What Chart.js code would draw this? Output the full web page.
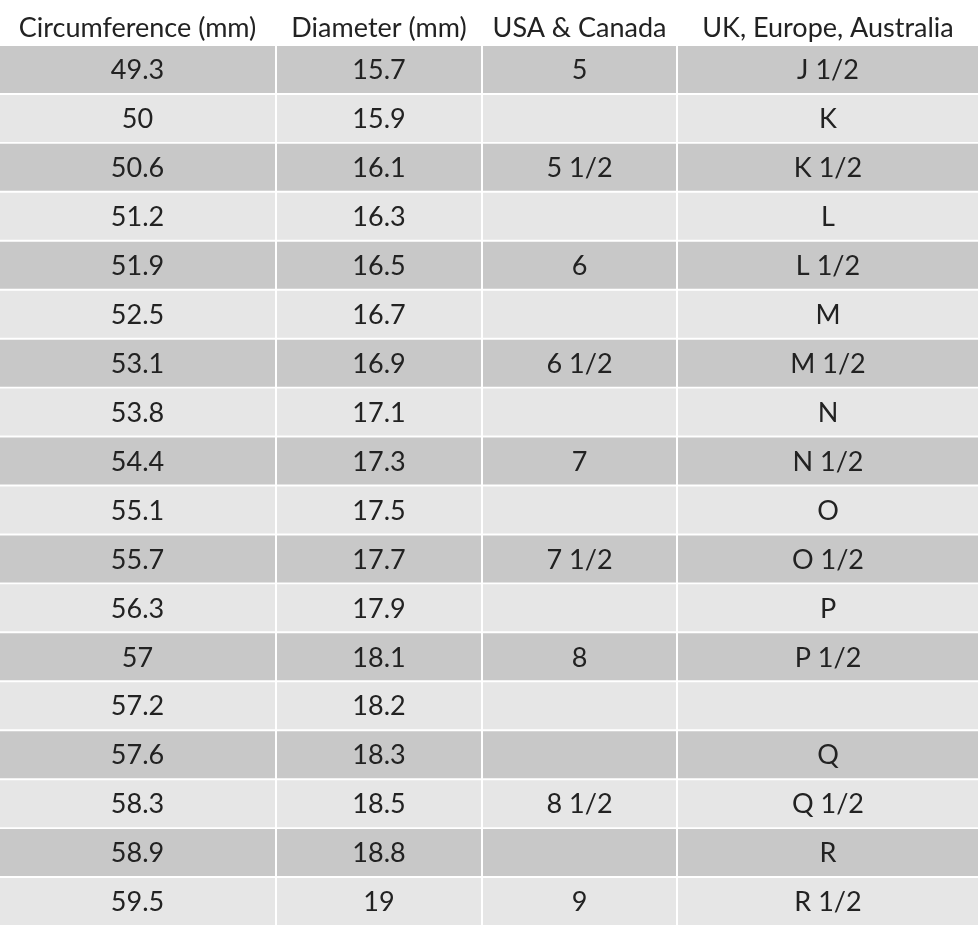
<!DOCTYPE html>
<html><head><meta charset="utf-8">
<script src="https://cdn.jsdelivr.net/npm/chart.js@4/dist/chart.umd.min.js"></script>
<style>html,body{margin:0;padding:0;background:#fff}</style>
</head><body>
<canvas id="c" width="980" height="937"></canvas>
<script>
const headers = ["Circumference (mm)", "Diameter (mm)", "USA & Canada", "UK, Europe, Australia"];
const circumference = ["49.3","50","50.6","51.2","51.9","52.5","53.1","53.8","54.4","55.1","55.7","56.3","57","57.2","57.6","58.3","58.9","59.5"];
const diameter = ["15.7","15.9","16.1","16.3","16.5","16.7","16.9","17.1","17.3","17.5","17.7","17.9","18.1","18.2","18.3","18.5","18.8","19"];
const usaCanada = ["5","","5 1/2","","6","","6 1/2","","7","","7 1/2","","8","","","8 1/2","","9"];
const ukEurope = ["J 1/2","K","K 1/2","L","L 1/2","M","M 1/2","N","N 1/2","O","O 1/2","P","P 1/2","","Q","Q 1/2","R","R 1/2"];

const columns = [circumference, diameter, usaCanada, ukEurope];
const colEdges = [[0,275],[277,481],[483,676],[678,978]];
const rowLabels = circumference.map((_, i) => "r" + i);
const FONT = "27px Lato, 'Open Sans', sans-serif";

const datasets = columns.map((col, ci) => ({
  data: col.map(() => colEdges[ci]),
  backgroundColor: col.map((_, ri) => ri % 2 === 0 ? "#c8c8c8" : "#e6e6e6"),
  borderWidth: 0,
  grouped: false,
  barPercentage: 0.96,
  categoryPercentage: 1
}));

const textPlugin = {
  id: "cellText",
  afterDatasetsDraw(chart) {
    const ctx = chart.ctx;
    ctx.save();
    ctx.font = FONT;
    ctx.fillStyle = "#222";
    ctx.textAlign = "center";
    ctx.textBaseline = "middle";
    const xs = chart.scales.x;
    const ys = chart.scales.y;
    columns.forEach((col, ci) => {
      const cx = (xs.getPixelForValue(colEdges[ci][0]) + xs.getPixelForValue(colEdges[ci][1])) / 2;
      ctx.fillText(headers[ci], cx, chart.chartArea.top - 17);
      col.forEach((txt, ri) => {
        ctx.fillText(txt, cx, ys.getPixelForValue(ri) + 1);
      });
    });
    ctx.restore();
  }
};

new Chart(document.getElementById("c"), {
  type: "bar",
  data: { labels: rowLabels, datasets },
  options: {
    responsive: false,
    animation: false,
    indexAxis: "y",
    layout: { padding: { top: 45, bottom: 11, left: 0, right: 0 } },
    plugins: { legend: { display: false }, tooltip: { enabled: false } },
    scales: {
      x: { type: "linear", min: 0, max: 980, display: false },
      y: { display: false, offset: true }
    }
  },
  plugins: [textPlugin]
});
</script>
</body></html>
